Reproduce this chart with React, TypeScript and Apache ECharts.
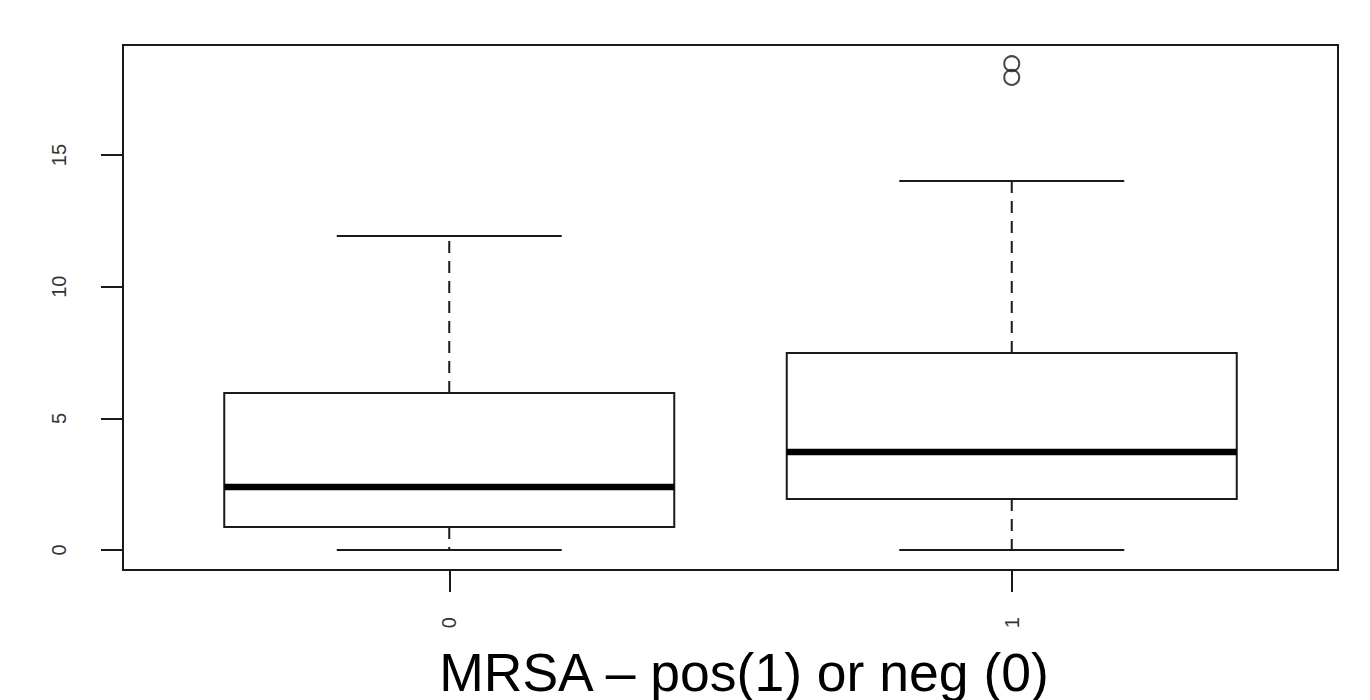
import React, { useEffect, useRef } from "react";
import * as echarts from "echarts";

// Group positions on the x axis (R places groups at 1, 2)
const groupPositions = [1, 2];
const groupLabels = ["0", "1"];
// Box statistics per group: [low whisker, Q1, median, Q3, high whisker]
const lowWhisker = [0, 0];
const q1Values = [0.87, 1.94];
const medianValues = [2.39, 3.72];
const q3Values = [5.96, 7.48];
const highWhisker = [11.93, 14.01];
// Outliers: [group position, value]
const outliers: [number, number][] = [
  [2, 18.47],
  [2, 17.95],
];
const yTicks = [0, 5, 10, 15];
const xTitle = "MRSA – pos(1) or neg (0)";

const FONT = '"Liberation Sans", Arial, sans-serif';
const INK = "#1a1a1a";

export default function App() {
  const ref = useRef<HTMLDivElement>(null);

  useEffect(() => {
    if (!ref.current) return;
    const chart = echarts.init(ref.current, null, { renderer: "svg" });

    const boxData = groupPositions.map((x, i) => [
      x,
      lowWhisker[i],
      q1Values[i],
      medianValues[i],
      q3Values[i],
      highWhisker[i],
    ]);

    const renderBox = (params: any, api: any) => {
      const x = api.value(0);
      const lo = api.value(1);
      const q1 = api.value(2);
      const med = api.value(3);
      const q3 = api.value(4);
      const hi = api.value(5);
      const boxHalf = 0.4;
      const capHalf = 0.2;
      const p = (xx: number, yy: number) => api.coord([xx, yy]);
      const [bl, bq1] = [p(x - boxHalf, q1), p(x + boxHalf, q3)];
      const dash = { stroke: INK, lineWidth: 2, lineDash: [12, 8] };
      const solid = { stroke: INK, lineWidth: 2 };
      const seg = (a: number[], b: number[], style: any) => ({
        type: "line",
        shape: { x1: a[0], y1: a[1], x2: b[0], y2: b[1] },
        style,
      });
      return {
        type: "group",
        children: [
          seg(p(x, q3), p(x, hi), dash),
          seg(p(x, q1), p(x, lo), dash),
          seg(p(x - capHalf, hi), p(x + capHalf, hi), solid),
          seg(p(x - capHalf, lo), p(x + capHalf, lo), solid),
          {
            type: "rect",
            shape: {
              x: bl[0],
              y: bq1[1],
              width: bq1[0] - bl[0],
              height: bl[1] - bq1[1],
            },
            style: { fill: "#fff", stroke: INK, lineWidth: 2 },
          },
          seg(p(x - boxHalf, med), p(x + boxHalf, med), {
            stroke: "#000",
            lineWidth: 6.5,
          }),
        ],
      };
    };

    chart.setOption({
      animation: false,
      backgroundColor: "#fff",
      grid: {
        left: 123,
        top: 45,
        width: 1215,
        height: 525,
        show: true,
        borderColor: INK,
        borderWidth: 2,
        backgroundColor: "transparent",
      },
      xAxis: {
        type: "value",
        min: 0.42,
        max: 2.58,
        axisLine: { show: false, onZero: false },
        splitLine: { show: false },
        axisTick: {
          show: true,
          customValues: groupPositions,
          length: 22,
          lineStyle: { color: INK, width: 2 },
        },
        axisLabel: {
          customValues: groupPositions,
          formatter: (v: number) => groupLabels[groupPositions.indexOf(v)] ?? "",
          rotate: 90,
          margin: 47,
          fontSize: 20,
          color: "#333",
          fontFamily: FONT,
        },
      },
      yAxis: {
        type: "value",
        min: -0.76,
        max: 19.18,
        axisLine: { show: false, onZero: false },
        splitLine: { show: false },
        axisTick: {
          show: true,
          customValues: yTicks,
          length: 22,
          lineStyle: { color: INK, width: 2 },
        },
        axisLabel: {
          customValues: yTicks,
          rotate: 90,
          margin: 54,
          fontSize: 20,
          color: "#333",
          fontFamily: FONT,
        },
      },
      series: [
        {
          type: "custom",
          renderItem: renderBox,
          data: boxData,
          encode: { x: 0, y: [1, 2, 3, 4, 5] },
          z: 2,
        },
        {
          type: "scatter",
          data: outliers,
          symbol: "circle",
          symbolSize: 15,
          itemStyle: {
            color: "rgba(0,0,0,0)",
            borderColor: INK,
            borderWidth: 2,
          },
          z: 3,
        },
      ],
      graphic: [
        {
          type: "text",
          x: 744,
          y: 672,
          style: {
            text: xTitle,
            fontSize: 53.5,
            fontFamily: FONT,
            fill: "#000",
            textAlign: "center",
            textVerticalAlign: "middle",
          },
        },
      ],
    });

    return () => chart.dispose();
  }, []);

  return (
    <div
      ref={ref}
      style={{
        position: "fixed",
        left: 0,
        top: 0,
        width: 1370,
        height: 700,
        background: "#fff",
      }}
    />
  );
}
